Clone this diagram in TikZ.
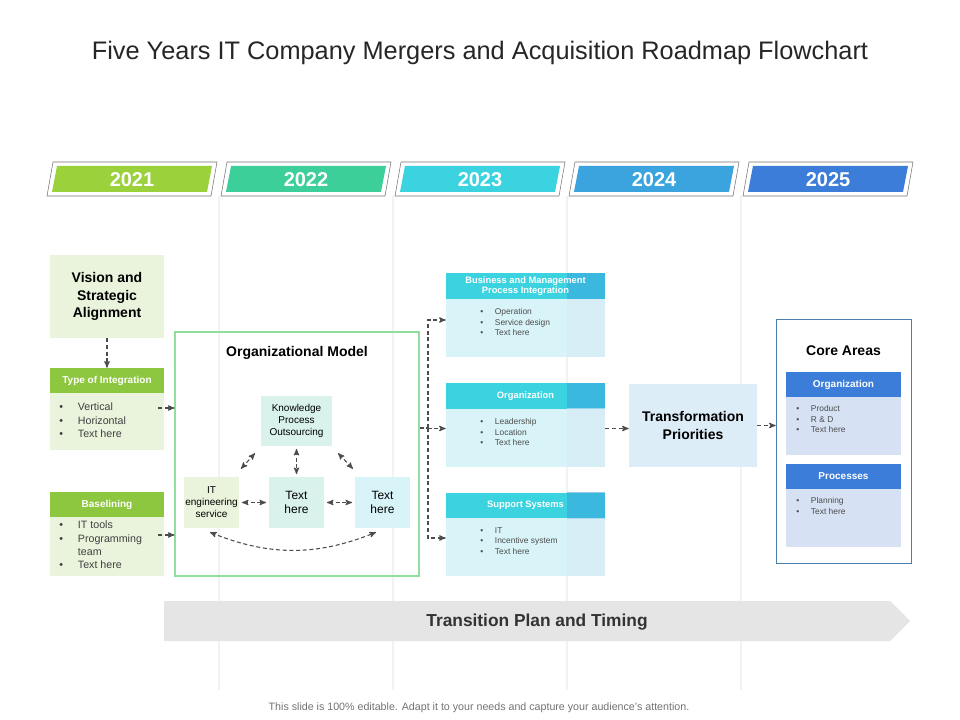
\documentclass[tikz,border=0pt]{standalone}
\usepackage{fontspec}
\setmainfont{Liberation Sans}
\usetikzlibrary{arrows,positioning,calc}
\definecolor{grnA}{HTML}{9BD13B}
\definecolor{grnH}{HTML}{8DC63F}
\definecolor{grnL}{HTML}{EAF4DC}
\definecolor{tealA}{HTML}{3DCF9A}
\definecolor{tealL}{HTML}{D9F3EC}
\definecolor{cyanA}{HTML}{3CD3E0}
\definecolor{cyanL}{HTML}{D8F4F8}
\definecolor{blueA}{HTML}{3BA3DE}
\definecolor{blueL}{HTML}{D5E9F6}
\definecolor{navyA}{HTML}{3B7DD8}
\definecolor{navyL}{HTML}{D6E2F4}
\definecolor{frameC}{HTML}{4A7FB0}
\tikzset{
	%Define standard arrow tip
	>=stealth',
	% Define style for boxes
	gbox/.style={rectangle, fill=grnL, minimum width=85.5pt, inner sep=0pt},
	ghead/.style={rectangle, fill=grnH, minimum width=85.5pt, minimum height=18.75pt,
		text=white, font=\bfseries\fontsize{7.5}{9}\selectfont, inner sep=0pt},
	bhead/.style={rectangle, fill=cyanA, minimum width=119.25pt, minimum height=19.5pt,
		text=white, font=\bfseries\fontsize{7}{8}\selectfont, align=center, inner sep=0pt},
	bbody/.style={rectangle, fill=cyanL, minimum width=119.25pt, minimum height=43.5pt, inner sep=0pt},
	nhead/.style={rectangle, fill=navyA, minimum width=86.25pt, minimum height=18.75pt,
		text=white, font=\bfseries\fontsize{7.5}{9}\selectfont, inner sep=0pt},
	nbody/.style={rectangle, fill=navyL, minimum width=86.25pt, minimum height=43.5pt, inner sep=0pt},
	sbox/.style={rectangle, fill=tealL, align=center, font=\fontsize{7.5}{9}\selectfont, inner sep=0pt},
	glist/.style={align=left, font=\fontsize{8}{10}\selectfont, text=black!75, inner sep=0pt},
	blist/.style={align=left, font=\fontsize{6.3}{8}\selectfont, text=black!70, inner sep=0pt},
	% Define arrow style
	pil/.style={->, densely dashed, thick, draw=black!70},
	bpil/.style={<->, densely dashed, thick, draw=black!70, shorten <=2pt, shorten >=2pt},
}
\newcommand{\bul}{\textbullet\hspace{1.4em}}
\begin{document}
\begin{tikzpicture}[x=0.75pt,y=-0.75pt]
	\useasboundingbox[fill=white] (0,0) rectangle (960,720);
	% title
	\node[font=\fontsize{19}{22}\selectfont, text=black!85] (title) at (480,53) {Five Years IT Company Mergers and Acquisition Roadmap Flowchart};
	% guide lines
	\foreach \x in {219,393,567,741}
		\draw[black!5, line width=0.8pt] (\x,196) -- (\x,690);
	% year banners
	\foreach \yr/\col [count=\i from 0] in {2021/grnA,2022/tealA,2023/cyanA,2024/blueA,2025/navyA}{
		\draw[black!55, fill=white] ({47+174*\i},196) -- ({53+174*\i},162) -- ({217+174*\i},162) -- ({211+174*\i},196) -- cycle;
		\fill[\col] ({52+174*\i},192) -- ({57+174*\i},166) -- ({212+174*\i},166) -- ({207+174*\i},192) -- cycle;
		\node[text=white, font=\bfseries\fontsize{15}{18}\selectfont] (y\yr) at ({132+174*\i},180) {\yr};
	}
	% left column
	\node[gbox, minimum height=62.25pt, align=center, font=\bfseries\fontsize{10.5}{13}\selectfont] (vision) at (107,296.5) {Vision and\\Strategic\\Alignment};
	\node[ghead] (toih) at (107,380.5) {Type of Integration};
	\node[gbox, minimum height=42.75pt] (toib) at (107,421.5) {};
	\node[glist, anchor=north west] (toil) at (59,403) {\bul Vertical\\\bul Horizontal\\\bul Text here};
	\node[ghead] (basih) at (107,504.5) {Baselining};
	\node[gbox, minimum height=44.25pt] (basib) at (107,546.5) {};
	\node[glist, anchor=north west] (basil) at (59,521) {\bul IT tools\\\bul Programming\\\hspace{1.75em}team\\\bul Text here};
	\draw[pil] (vision.south) -- (toih.north);
	% organizational model
	\node[draw=tealA!60!grnA!70, thick, minimum width=183pt, minimum height=183pt, inner sep=0pt] (om) at (297,454) {};
	\node[font=\bfseries\fontsize{10.5}{13}\selectfont] (omt) at (297,353) {Organizational Model};
	\node[sbox, minimum width=53.25pt, minimum height=37.5pt] (kpo) at (296.5,421) {Knowledge\\Process\\Outsourcing};
	\node[sbox, fill=grnL, minimum width=41.25pt, minimum height=38.25pt] (ites) at (211.5,502.5) {IT\\engineering\\service};
	\node[sbox, minimum width=41.25pt, minimum height=38.25pt, font=\fontsize{9}{11}\selectfont] (txa) at (296.5,502.5) {Text\\here};
	\node[sbox, fill=cyanL, minimum width=41.25pt, minimum height=38.25pt, font=\fontsize{9}{11}\selectfont] (txb) at (382.5,502.5) {Text\\here};
	\draw[pil] ($(om.west)+(-16,-46)$) -- ($(om.west)+(0,-46)$);
	\draw[pil] ($(om.west)+(-16,81)$) -- ($(om.west)+(0,81)$);
	\draw[bpil] ($(kpo.south west)+(-4,5)$) -- ($(ites.north east)+(0,-6)$);
	\draw[bpil] (kpo.south) -- (txa.north);
	\draw[bpil] ($(kpo.south east)+(4,5)$) -- ($(txb.north west)+(0,-6)$);
	\draw[bpil] (ites.east) -- (txa.west);
	\draw[bpil] (txa.east) -- (txb.west);
	\draw[bpil] ($(ites.south)+(-4,3)$) to[bend right=22] ($(txb.south)+(-4,3)$);
	% blue boxes
	\node[bhead] (bmh) at (525.5,286) {};
	\node[bbody] (bmb) at (525.5,328) {};
	\node[bhead] (orh) at (525.5,396) {};
	\node[bbody] (orb) at (525.5,437.5) {};
	\node[bhead] (ssh) at (525.5,505.5) {};
	\node[bbody] (ssb) at (525.5,547) {};
	\foreach \n in {bm,or,ss}{
		\fill[blueA, opacity=0.55] ($(\n h.north east)+(-38,0)$) rectangle (\n h.south east);
		\fill[blueL, opacity=0.6] ($(\n b.north east)+(-38,0)$) rectangle (\n b.south east);
	}
	\node[bhead, fill=none] (bmt) at (bmh) {Business and Management\\Process Integration};
	\node[bhead, fill=none] (ort) at (orh) {Organization};
	\node[bhead, fill=none] (sst) at (ssh) {Support Systems};
	\node[blist, anchor=north west] (bml) at (480,308) {\bul Operation\\\bul Service design\\\bul Text here};
	\node[blist, anchor=north west] (orl) at (480,418) {\bul Leadership\\\bul Location\\\bul Text here};
	\node[blist, anchor=north west] (ssl) at (480,527) {\bul IT\\\bul Incentive system\\\bul Text here};
	\coordinate (jn) at (428,428);
	\draw[densely dashed, thick, black!70] (om.east |- jn) -- (jn);
	\draw[pil] (jn) |- ($(bmb.west)+(0,-8)$);
	\draw[pil] (jn) |- ($(orb.west)+(0,-9)$);
	\draw[pil] (jn) |- ($(ssb.west)+(0,-9)$);
	% transformation priorities
	\node[rectangle, fill=blueL!80, minimum width=96pt, minimum height=62.25pt, align=center,
		font=\bfseries\fontsize{10.5}{13}\selectfont] (trp) at (693,425.5) {Transformation\\Priorities};
	\draw[pil] ($(orb.east)+(0,-9)$) -- ($(trp.west)+(0,3)$);
	% core areas
	\node[draw=frameC, minimum width=101.25pt, minimum height=183pt, inner sep=0pt] (core) at (843.5,441) {};
	\node[font=\bfseries\fontsize{10.5}{13}\selectfont] (coret) at (843.5,351) {Core Areas};
	\node[nhead] (coh) at (843.5,384.5) {Organization};
	\node[nbody] (cob) at (843.5,426) {};
	\node[nhead] (cph) at (843.5,476.5) {Processes};
	\node[nbody] (cpb) at (843.5,518) {};
	\node[blist, anchor=north west] (col) at (796,405) {\bul Product\\\bul R \& D\\\bul Text here};
	\node[blist, anchor=north west] (cpl) at (796,497) {\bul Planning\\\bul Text here};
	\draw[pil] (trp.east) -- (core.west |- trp.east);
	% transition plan
	\fill[black!10] (164,601) -- (890,601) -- (910,621) -- (890,641) -- (164,641) -- cycle;
	\node[font=\bfseries\fontsize{13}{15}\selectfont, text=black!80] (tpt) at (537,622) {Transition Plan and Timing};
	% footer
	\node[font=\fontsize{8}{10}\selectfont, text=black!55] (foot) at (479,708) {This slide is 100\% editable. Adapt it to your needs and capture your audience's attention.};
\end{tikzpicture}
\end{document}
